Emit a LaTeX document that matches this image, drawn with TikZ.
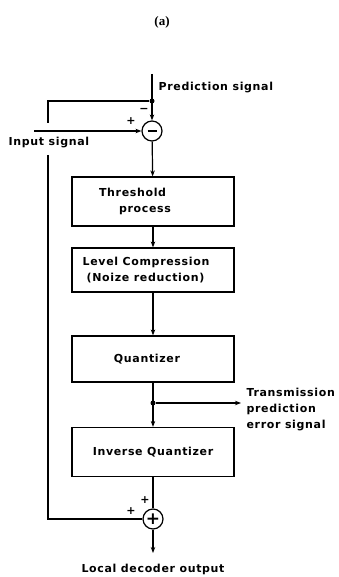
\documentclass[tikz,border=0pt]{standalone}
\usepackage{fontspec}
\setmainfont{DejaVu Sans}[LetterSpace=6]
\newfontfamily\capfont{Liberation Serif}
\usetikzlibrary{arrows.meta}

\begin{document}
\begin{tikzpicture}[x=1pt, y=-1pt, line width=1.2pt,
  blk/.style={draw, minimum width=162pt, inner sep=0pt},
  lbl/.style={inner sep=0pt, font=\fontsize{11}{16}\selectfont\bfseries},
  sgn/.style={inner sep=0pt, font=\fontsize{11}{11}\selectfont\bfseries},
  jn/.style={draw, circle, minimum size=20pt, inner sep=0pt},
  arr/.style={-{Stealth[length=6pt, width=4.5pt]}},
  dotmark/.style={fill, circle, minimum size=5pt, inner sep=0pt}]
\useasboundingbox (0,0) rectangle (339,577);

% caption
\node[inner sep=0pt, font=\capfont\fontsize{13}{13}\selectfont\bfseries] (cap) at (162,22) {(a)};

% subtractor and its inputs
\coordinate (ptop) at (152,74);
\node[dotmark] (d1) at (152,101) {};
\node[jn] (sub) at (152,131) {};
\draw ([xshift=-4.5pt]sub.center) -- ([xshift=4.5pt]sub.center);
\coordinate (inp) at (34,131);
\node[lbl, anchor=west] (ptxt) at (158,88) {Prediction signal};
\node[lbl, anchor=west] (itxt) at (8,143) {Input signal};
\node[sgn] (s1) at (131,121) {+};
\node[sgn] (s2) at (144,110) {−};

% processing chain
\node[blk, minimum height=49pt] (thr) at (153,201.5) {};
\node[lbl, align=left] (thrt) at ([xshift=-18pt]thr.center) {Threshold\\\hspace*{20pt}process};
\node[blk, minimum height=44pt] (lvl) at (153,270) {};
\node[lbl, align=left] (lvlt) at ([xshift=-7pt]lvl.center) {Level Compression\\\hspace*{4pt}(Noize reduction)};
\node[blk, minimum height=46pt] (qz) at (153,359) {};
\node[lbl] (qzt) at ([xshift=-6pt]qz.center) {Quantizer};
\node[dotmark] (d2) at (153,403) {};
\coordinate (tx) at (241,403);
\node[lbl, anchor=north west, align=left] (txt) at (246,388) {Transmission\\prediction\\error signal};
\node[blk, minimum height=49pt] (iq) at (153,452) {};
\node[lbl] (iqt) at (iq.center) {Inverse Quantizer};

% adder and output
\node[jn, font=\fontsize{17}{17}\selectfont\bfseries] (add) at (153,519) {+};
\node[sgn] (s3) at (145,500) {+};
\node[sgn] (s4) at (131,511) {+};
\coordinate (out) at (153,553);
\node[lbl] (otxt) at (153,569) {Local decoder output};

% feedback path, broken around the input label
\coordinate (fa) at (48,123);
\coordinate (fb) at (48,155);

% connectors
\draw[arr] (ptop) -- (sub);
\draw[arr] (inp) -- (sub);
\draw[arr] (sub) -- (thr);
\draw[arr] (thr) -- (lvl);
\draw[arr] (lvl) -- (qz);
\draw[arr] (qz) -- (iq);
\draw[arr] (d2) -- (tx);
\draw (iq) -- (add);
\draw[arr] (add) -- (out);
\draw (d1) -| (fa);
\draw (fb) |- (add);
\end{tikzpicture}
\end{document}
